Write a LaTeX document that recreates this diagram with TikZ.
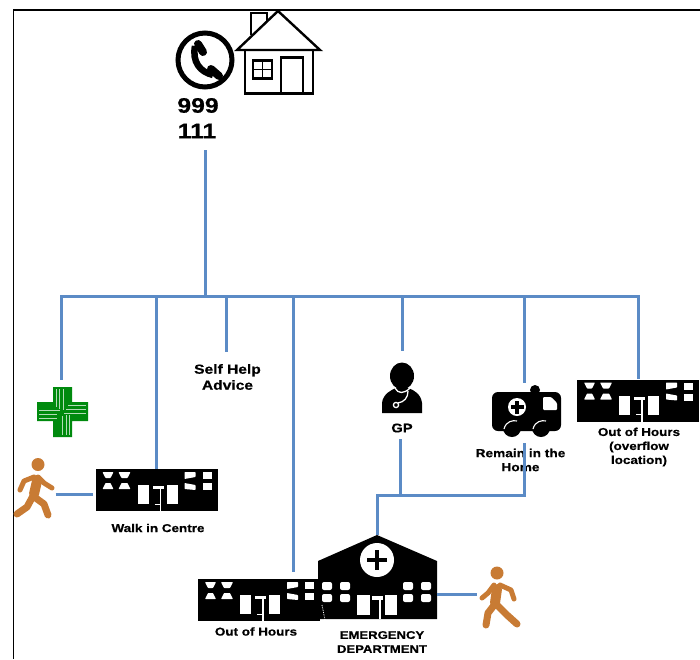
\documentclass[tikz,border=0pt]{standalone}
\usepackage{fontspec}
\setmainfont{Liberation Sans}[FakeStretch=1.18,BoldFeatures={FakeBold=0.5}]
\tikzset{
  conn/.style={draw=linkblue,line width=3pt},
  lab/.style={font=\bfseries,inner sep=0pt,align=center,text=black},
  win/.style={fill=white,draw=none},
  bldg/.pic={
    \fill[black] (0,0) rectangle (122,42);
    \fill[win,rounded corners=.6pt] (7,3)--(18,3)--(15,9)--(10,9)--cycle;
    \fill[win,rounded corners=.6pt] (23,3)--(35,3)--(32,9)--(26,9)--cycle;
    \fill[win,rounded corners=.6pt] (10,14)--(15,14)--(18,20)--(7,20)--cycle;
    \fill[win,rounded corners=.6pt] (26,14)--(32,14)--(35,20)--(23,20)--cycle;
    \fill[win,rounded corners=.6pt] (89,3)--(100,3)--(100,8)--(89,10)--cycle;
    \fill[win,rounded corners=.6pt] (89,14)--(100,16)--(100,21)--(89,20)--cycle;
    \fill[win] (107,3) rectangle (116,10);
    \fill[win] (107,14) rectangle (116,21);
    \fill[win] (42,16) rectangle (53,35);
    \fill[win] (71,16) rectangle (82,35);
    \fill[win] (57,17) rectangle (68,20);
    \draw[white,line width=1.6pt] (65,18)--(65,42);
    \draw[white,line width=1pt] (59,35)--(64,35);
  },
  limb/.style={walkc,line cap=round,line join=round}
}
\definecolor{linkblue}{HTML}{5B8BC6}
\definecolor{walkc}{HTML}{C87B34}
\definecolor{crossg}{HTML}{008A0E}
\begin{document}
\begin{tikzpicture}[x=1pt,y=-1pt]
\useasboundingbox (0,0) rectangle (700,659);
\fill[white] (0,0) rectangle (700,659);
% frame
\draw[black,line width=1.8pt] (700,10)--(13.5,10)--(13.5,659);

% phone
\draw[black,line width=5pt] (205,60) circle (27);
\draw[black,line width=6.5pt] (195,46) .. controls (192,62) and (200,72) .. (213,75);
\draw[black,line width=8pt,line cap=round] (198,44)--(203,52);
\draw[black,line width=8pt,line cap=round] (211,69)--(219,76);

% house
\draw[black,line width=2.4pt] (251,35)--(251,13)--(267,13)--(267,22);
\draw[black,line width=2.4pt,line join=miter] (237,50)--(278,11)--(320,50)--cycle;
\draw[black,line width=2.4pt] (245,50)--(245,93.5)--(313,93.5)--(313,50);
\draw[black,line width=2.4pt] (281,93.5)--(281,57.5)--(303,57.5)--(303,93.5);
\draw[black,line width=2.4pt] (253,60.5) rectangle (272,78.5);
\draw[black,line width=1.8pt] (262.5,60.5)--(262.5,78.5) (253,69.5)--(272,69.5);

% labels
\node[lab,font=\bfseries\fontsize{21}{21}\selectfont] (n999) at (198,105.5) {999};
\node[lab,font=\bfseries\fontsize{21}{21}\selectfont] (n111) at (197,131) {111};
\node[lab,font=\bfseries\fontsize{13.2}{16}\selectfont] (self) at (227.5,377) {Self Help\\Advice};
\node[lab,font=\bfseries\fontsize{12.5}{12}\selectfont] (gplab) at (402,428) {GP};
\node[lab,font=\bfseries\fontsize{11.4}{10}\selectfont] (walklab) at (158,528) {Walk in Centre};
\node[lab,font=\bfseries\fontsize{11.4}{10}\selectfont] (oohlab) at (256,631.5) {Out of Hours};
\node[lab,font=\bfseries\fontsize{11.4}{14}\selectfont] (overlab) at (639,447) {Out of Hours\\(overflow\\location)};
\node[lab,font=\bfseries\fontsize{11.1}{14}\selectfont] (edlab) at (382,642) {EMERGENCY\\DEPARTMENT};

% pharmacy cross
\node[inner sep=0pt,minimum width=51pt,minimum height=50pt] (cross) at (62.5,412) {};
\fill[crossg] (53,387)--(72,387)--(72,402)--(88,402)--(88,421)--(72,421)--(72,437)--(53,437)--(53,421)--(37,421)--(37,402)--(53,402)--cycle;
\draw[white!15!crossg!35!white,line width=1pt]
  (56,389)--(56,407) (59.5,389)--(59.5,409) (63,389)--(63,410)
  (66,415)--(66,435) (69,415)--(69,435) (62.5,416)--(62.5,435)
  (68,405.5)--(86,405.5) (66,409.5)--(86,409.5) (64,413)--(86,413)
  (39,410)--(60,410) (39,414)--(57,414) (39,418)--(57,418);

% walkers
\fill[walkc] (38,464.5) circle (6.5);
\draw[limb,line width=10pt] (37,481)--(34,494);
\draw[limb,line width=5pt] (34,477)--(24,481)--(20,490);
\draw[limb,line width=5pt] (38,477)--(44,483)--(52,488);
\draw[limb,line width=7pt] (33,496)--(27,507)--(17,514);
\draw[limb,line width=7pt] (33,496)--(44,504)--(48,515);
\fill[walkc] (497,573) circle (6.5);
\draw[limb,line width=10pt] (497,589)--(495,603);
\draw[limb,line width=5pt] (494,585)--(488,593)--(482,598);
\draw[limb,line width=5pt] (500,585)--(511,590)--(514,599);
\draw[limb,line width=7pt] (495,604)--(488,613)--(486,625);
\draw[limb,line width=7pt] (496,604)--(507,615)--(517,624);
\node[inner sep=0pt,minimum width=41pt,minimum height=60pt] (walkerA) at (35,494) {};
\node[inner sep=0pt,minimum width=43pt,minimum height=60pt] (walkerB) at (499,594.5) {};

% buildings
\pic at (95.5,469) {bldg};
\node[inner sep=0pt,minimum width=122pt,minimum height=42pt] (walkin) at (156,490) {};
\node[inner sep=0pt,minimum width=0pt,minimum height=42pt] (walkinL) at (93,494) {};
\pic at (577,379.5) {bldg};
\node[inner sep=0pt,minimum width=122pt,minimum height=42pt] (over) at (638,400.5) {};
\pic at (198,579) {bldg};
\node[inner sep=0pt,minimum width=122pt,minimum height=42pt] (ooh) at (259,600) {};

% emergency department
\fill[black] (377,535)--(437,561)--(437,619)--(318,619)--(318,561)--cycle;
\fill[white] (377,560) circle (17);
\fill[black] (374.7,550) rectangle (379.3,570);
\fill[black] (367,557.7) rectangle (387,562.3);
\foreach \wx in {322,340,403,421}{
  \fill[white,rounded corners=2pt] (\wx,582) rectangle +(10,8);
  \fill[white,rounded corners=2pt] (\wx,594) rectangle +(10,8);
}
\fill[white] (357,595) rectangle (370,615);
\fill[white] (385,595) rectangle (397,615);
\fill[white] (372,596) rectangle (383,600);
\draw[white,line width=1.4pt] (380,598)--(380,619);
\draw[white,line width=.8pt,densely dotted] (322,605)--(325,620);
\node[inner sep=0pt,minimum width=119pt,minimum height=84pt] (ed) at (377,577) {};

% GP
\fill[black] (402,376) ellipse (12 and 13.5);
\fill[black] (382,413)--(382,403) .. controls (383,394) and (391,390) .. (396,388) -- (408,388) .. controls (414,390) and (421,394) .. (422,403) -- (422,413)--cycle;
\draw[white,line width=1.3pt] (395,388) .. controls (398,394) and (404,394) .. (410,388);
\draw[white,line width=1.3pt] (408,391) .. controls (408,398) and (404,402) .. (398,403);
\draw[white,line width=1.3pt] (396,405) circle (2.6);
\node[inner sep=0pt,minimum width=40pt,minimum height=50pt] (gp) at (402,388) {};

% ambulance
\fill[black,rounded corners=6pt] (492,392) rectangle (561,431);
\fill[black] (535,390) circle (5);
\fill[white,rounded corners=1pt] (543,397)--(551,397)--(557,403)--(557,410)--(543,410)--cycle;
\fill[white] (517,407) circle (9);
\fill[black] (515.2,400.5) rectangle (518.8,413.5);
\fill[black] (510.5,405.2) rectangle (523.5,408.8);
\foreach \wx in {512,541}{
  \fill[black] (\wx,428) circle (9);
  \draw[white,line width=1.1pt] (\wx-8,429) .. controls (\wx-6,421) and (\wx+1,420) .. (\wx+5,421);
}
\node[inner sep=0pt,minimum width=69pt,minimum height=50pt] (amb) at (526.5,412) {};
\node[lab,font=\bfseries\fontsize{11.6}{14}\selectfont] (remain) at (520.5,460) {Remain in the\\Home};

% junction coordinates
\coordinate (phoneEnd) at (205,150);
\coordinate (bus) at (205,296);
\coordinate (busL) at (61,296);
\coordinate (busR) at (638,296);
\coordinate (j2) at (156,296);
\coordinate (j3) at (226,296);
\coordinate (j4) at (293,296);
\coordinate (j5) at (402,296);
\coordinate (j6) at (524,296);
\coordinate (c1) at (61,380);
\coordinate (c3) at (226,352);
\coordinate (c4) at (293,572);
\coordinate (c5) at (402,351);
\coordinate (c6) at (524,383);
\coordinate (gpTop) at (400,439);
\coordinate (ambBot) at (524,443);
\coordinate (lowL) at (377,495);
\coordinate (lowG) at (400,495);
\coordinate (lowR) at (524,495);

% connectors
\draw[conn] (phoneEnd)--(bus);
\draw[conn,line join=miter] (c1)--(busL)--(busR)--(over.north);
\draw[conn] (j2)--(walkin.north);
\draw[conn] (j3)--(c3);
\draw[conn] (j4)--(c4);
\draw[conn] (j5)--(c5);
\draw[conn] (j6)--(c6);
\draw[conn] (gpTop)--(lowG);
\draw[conn,line join=miter] (ambBot)--(lowR)--(lowL)--(ed.north);
\draw[conn] (walkerA.east)--(walkinL);
\draw[conn] (ed.east |- walkerB.west)--(walkerB.west);
\end{tikzpicture}
\end{document}
